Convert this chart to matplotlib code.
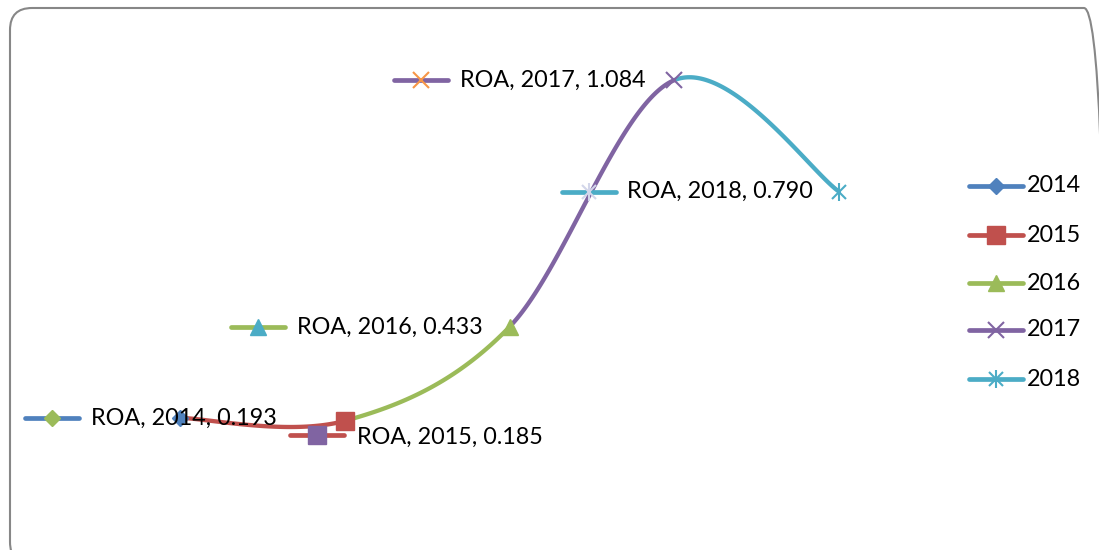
import numpy as np
import matplotlib
matplotlib.use("Agg")
import matplotlib.pyplot as plt
from matplotlib import transforms
from matplotlib.patches import FancyBboxPatch

# ---- data -------------------------------------------------------------
metric = "ROA"
years = ["2014", "2015", "2016", "2017", "2018"]
roa = [0.193, 0.185, 0.433, 1.084, 0.790]

# ---- styling ----------------------------------------------------------
colors = ["#4F81BD", "#C0504D", "#9BBB59", "#8064A2", "#4BACC6"]
key_marker_colors = ["#9BBB59", "#8064A2", "#4BACC6", "#F79646", "#D3D6EA"]
markers = ["D", "s", "^", "x", "star"]
# data-label offsets in pixels: (key centre dx, key dy, text dx, text dy)
label_offsets = [(-128, 0, -89, 0),
                 (-28, 14, 12, 16),
                 (-252, 0, -213, 0),
                 (-253, 0, -214, 0),
                 (-250, 0, -212, 0)]

FONT = "Lato"
FS = 16.8
W, H = 1099, 550

fig = plt.figure(figsize=(W / 100, H / 100), dpi=100)
ax = fig.add_axes([0, 0, 1, 1])
ax.set_xlim(-1.0926, 5.578)
ax.set_ylim(-0.1557, 1.2955)
ax.axis("off")

ident = transforms.IdentityTransform()
# pixel coordinates measured from the top-left corner of the figure
px = transforms.Affine2D().scale(1, -1).translate(0, H)

# rounded chart frame (runs slightly past the right and bottom edges)
frame = FancyBboxPatch((10, -14), 1096, 556, boxstyle="round,pad=0,rounding_size=22",
                       transform=ident, fill=False, clip_on=False,
                       edgecolor="#878787", linewidth=1.5, zorder=1)
ax.add_artist(frame)


def draw_marker(x, y, kind, color, transform, z):
    common = dict(transform=transform, zorder=z, linestyle="none", clip_on=False)
    if kind == "star":
        ax.plot(x, y, marker="x", ms=10.5, mew=1.5, color=color, **common)
        ax.plot(x, y, marker="|", ms=13, mew=1.5, color=color, **common)
    elif kind == "x":
        ax.plot(x, y, marker="x", ms=11.5, mew=1.5, color=color, **common)
    else:
        size = {"D": 8.5, "s": 13.0, "^": 12.0}[kind]
        ax.plot(x, y, marker=kind, ms=size, color=color, mec=color, **common)


def draw_key(x, y, line_color, kind, marker_color, z):
    """Legend key drawn in display pixels (origin bottom-left)."""
    ax.plot([x - 27, x + 27], [y, y], color=line_color, lw=3.4,
            solid_capstyle="round", transform=ident, zorder=z, clip_on=False)
    draw_marker(x, y, kind, marker_color, ident, z + 0.1)


# smoothed line (cubic Bezier through the points, tension 1/6)
xs = np.arange(len(roa), dtype=float)
pts = np.column_stack([xs, roa])
t = np.linspace(0, 1, 80)[:, None]
n = len(pts)
for i in range(n - 1):
    p0 = pts[max(i - 1, 0)]
    p1 = pts[i]
    p2 = pts[i + 1]
    p3 = pts[min(i + 2, n - 1)]
    c1 = p1 + (p2 - p0) / 6
    c2 = p2 - (p3 - p1) / 6
    b = (1 - t) ** 3 * p1 + 3 * (1 - t) ** 2 * t * c1 + 3 * (1 - t) * t ** 2 * c2 + t ** 3 * p2
    ax.plot(b[:, 0], b[:, 1], color=colors[i + 1], lw=3.1,
            solid_capstyle="butt", zorder=3)

# point markers
for i, v in enumerate(roa):
    draw_marker(xs[i], v, markers[i], colors[i], ax.transData, 4)

# data labels with their legend keys
for i, v in enumerate(roa):
    kdx, kdy, tdx, tdy = label_offsets[i]
    dx_, dy_ = ax.transData.transform((xs[i], v))
    draw_key(dx_ + kdx, dy_ - kdy, colors[i], markers[i], key_marker_colors[i], 5)
    ax.text(dx_ + tdx, dy_ - tdy, f"{metric}, {years[i]}, {v:.3f}", transform=ident,
            ha="left", va="center", fontsize=FS, family=FONT, color="black", zorder=6)

# legend
legend_rows = [186, 235, 283, 330, 379]
for i, yr in enumerate(years):
    draw_key(996, H - legend_rows[i], colors[i], markers[i], colors[i], 5)
    ax.text(1027, legend_rows[i], yr, transform=px, ha="left", va="center",
            fontsize=FS, family=FONT, color="black", zorder=6)

fig.savefig("out.png", dpi=100)
